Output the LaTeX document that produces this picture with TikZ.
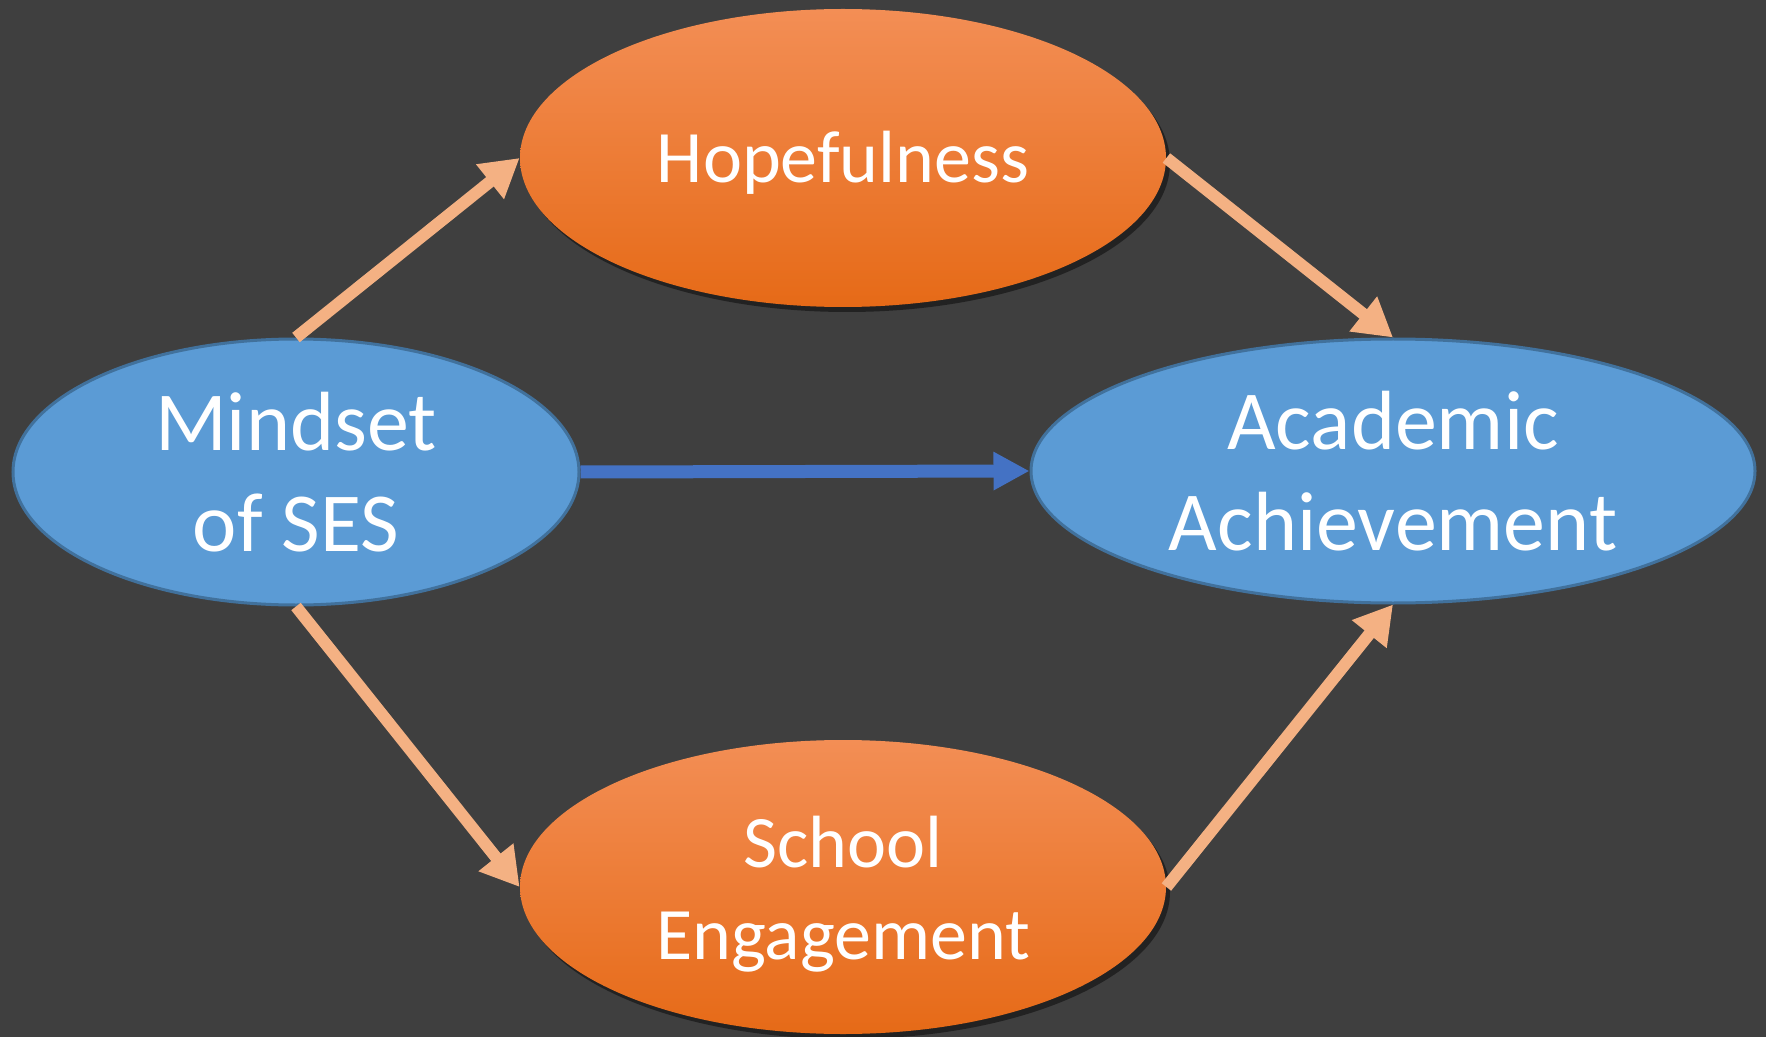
\documentclass[tikz,border=0pt]{standalone}
\usepackage{fontspec}
\setmainfont{Carlito}
\usetikzlibrary{positioning,arrows.meta,shapes.geometric,shadows}
\definecolor{slate}{HTML}{3F3F3F}
\definecolor{skyfill}{HTML}{5B9BD5}
\definecolor{skyedge}{HTML}{41719C}
\definecolor{royal}{HTML}{4472C4}
\definecolor{peach}{HTML}{F4B183}
\definecolor{ambertop}{HTML}{F38E55}
\definecolor{amberbot}{HTML}{E66A17}
% text sits a little low in the orange ovals
\newcommand{\lowtext}[2]{\raisebox{-#1}[\height][\depth]{\begin{tabular}{@{}c@{}}#2\end{tabular}}}
\tikzset{
  factor/.style={ellipse, draw=skyedge, line width=1.5pt, fill=skyfill, text=white,
    align=center, inner sep=0pt, font=\fontsize{42}{50.5}\selectfont},
  mediator/.style={ellipse, top color=ambertop, bottom color=amberbot, text=white,
    align=center, inner sep=0pt, font=\fontsize{37}{44}\selectfont,
    drop shadow={shadow xshift=2pt, shadow yshift=-2.5pt, opacity=0.45, fill=black}},
  link/.style={peach, line width=6pt, -{Triangle[length=19pt,width=21pt]}},
  direct/.style={royal, line width=6.5pt, -{Triangle[length=18pt,width=18pt]}}
}

\begin{document}
\begin{tikzpicture}[x=0.5pt, y=-0.5pt]
  \fill[slate] (0,0) rectangle (1766,1037);
  % mediators
  \node[mediator, minimum width=323pt, minimum height=149pt] (hope) at (843,158) {\lowtext{3.4pt}{Hopefulness}};
  \node[mediator, minimum width=323pt, minimum height=147pt] (engage) at (843,887) {\lowtext{4.5pt}{School\\[2pt]Engagement}};
  % predictor and outcome
  \node[factor, minimum width=283pt, minimum height=133pt] (mindset) at (296,472) {Mindset\\of SES};
  \node[factor, minimum width=362pt, minimum height=132pt] (achieve) at (1393,471) {Academic\\Achievement};
  % paths
  \draw[link] (mindset.north) -- (hope.west);
  \draw[link] (hope.east) -- (achieve.north);
  \draw[link] (mindset.south) -- (engage.west);
  \draw[link] (engage.east) -- (achieve.south);
  \draw[direct] (mindset.east) -- (achieve.west);
\end{tikzpicture}
\end{document}
